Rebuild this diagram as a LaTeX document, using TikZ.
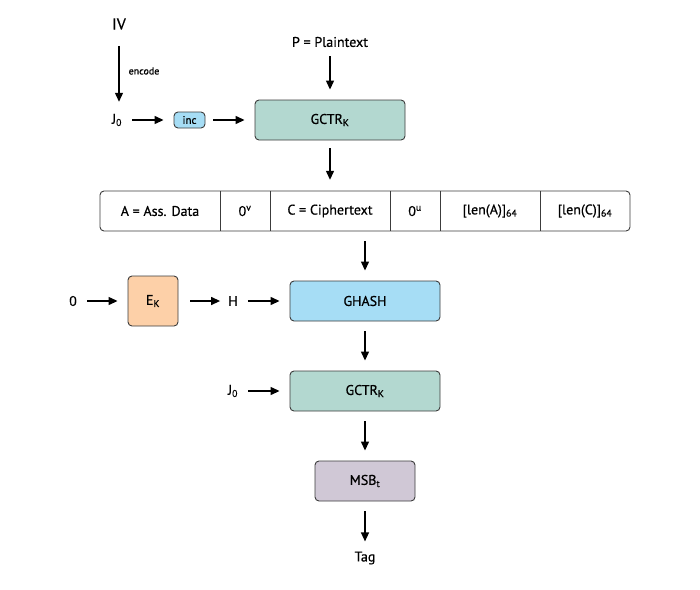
\documentclass[tikz,border=0pt]{standalone}
\usepackage{fontspec}
\setmainfont{PT Sans}[FakeBold=0.6]
\usetikzlibrary{arrows.meta}
\definecolor{tealbox}{RGB}{179,216,208}
\definecolor{bluebox}{RGB}{166,221,245}
\definecolor{peachbox}{RGB}{253,208,168}
\definecolor{lilacbox}{RGB}{208,200,214}
\definecolor{edge}{RGB}{60,60,60}
\newcommand{\lsub}[1]{\textsubscript{#1}}
\newcommand{\lsup}[1]{\textsuperscript{#1}}
\begin{document}
\begin{tikzpicture}[x=1pt,y=-1pt,
  every node/.style={font=\fontsize{14}{16}\selectfont},
  txt/.style={inner sep=0pt},
  box/.style={draw=edge, line width=0.9pt, rounded corners=4pt, inner sep=0pt, align=center},
  cell/.style={inner sep=0pt, minimum height=40pt},
  arr/.style={line width=1.3pt, -{Triangle[length=9pt,width=8pt]}, shorten <=10pt, shorten >=10pt},
  divider/.style={draw=edge, line width=0.9pt}]
\useasboundingbox (0,0) rectangle (700,589);

% top row
\node[txt, font=\fontsize{16}{18}\selectfont] (iv) at (119,24) {IV};
\node[txt] (j0a) at (117,120) {J\lsub{0}};
\node[txt, font=\fontsize{10}{12}\selectfont] (enc) at (144,71) {encode};
\node[box, fill=bluebox, minimum width=31pt, minimum height=16pt, font=\fontsize{11}{12}\selectfont] (inc) at (189.5,120) {inc};
\node[box, fill=tealbox, minimum width=150pt, minimum height=40pt] (g1) at (330,120) {GCTR\lsub{K}};
\node[txt] (p) at (330,42) {P = Plaintext};

\draw[arr, shorten <=16pt, shorten >=12pt] (iv) -- (iv |- j0a.north);
\draw[arr] (j0a) -- (inc);
\draw[arr, shorten <=8pt] (inc) -- (g1);
\draw[arr, shorten <=9pt] (p) -- (g1);

% data bar
\node[box, minimum width=530pt, minimum height=40pt] (bar) at (365,211) {};
\node[cell, minimum width=120pt] (cA) at (160,211) {A = Ass. Data};
\node[cell, minimum width=50pt] (c0v) at (245,211) {0\lsup{v}};
\node[cell, minimum width=120pt] (cC) at (330,211) {C = Ciphertext};
\node[cell, minimum width=50pt] (c0u) at (415,211) {0\lsup{u}};
\node[cell, minimum width=100pt] (cLA) at (490,211) {[len(A)]\lsub{64}};
\node[cell, minimum width=90pt] (cLC) at (585,211) {[len(C)]\lsub{64}};
\foreach \c in {cA,c0v,cC,c0u,cLA}
  \draw[divider] (\c.north east) -- (\c.south east);

\draw[arr, shorten <=8pt, shorten >=11pt] (g1) -- (cC);

% hash row
\node[txt] (zero) at (73,301) {0};
\node[box, fill=peachbox, minimum width=50pt, minimum height=50pt] (ek) at (153,301) {E\lsub{K}};
\node[txt] (h) at (233,301) {H};
\node[box, fill=bluebox, minimum width=150pt, minimum height=40pt] (gh) at (365,301) {GHASH};

\draw[arr] (zero) -- (ek);
\draw[arr, shorten <=12pt, shorten >=8pt] (ek) -- (h);
\draw[arr] (h) -- (gh);
\draw[arr] (bar) -- (gh);

% final
\node[txt] (j0b) at (233,391) {J\lsub{0}};
\node[box, fill=tealbox, minimum width=150pt, minimum height=40pt] (g2) at (365,391) {GCTR\lsub{K}};
\node[box, fill=lilacbox, minimum width=100pt, minimum height=40pt] (msb) at (365,481) {MSB\lsub{t}};
\node[txt] (tag) at (365,558) {Tag};

\draw[arr] (gh) -- (g2);
\draw[arr] (j0b) -- (g2);
\draw[arr] (g2) -- (msb);
\draw[arr] (msb) -- (tag);
\end{tikzpicture}
\end{document}
